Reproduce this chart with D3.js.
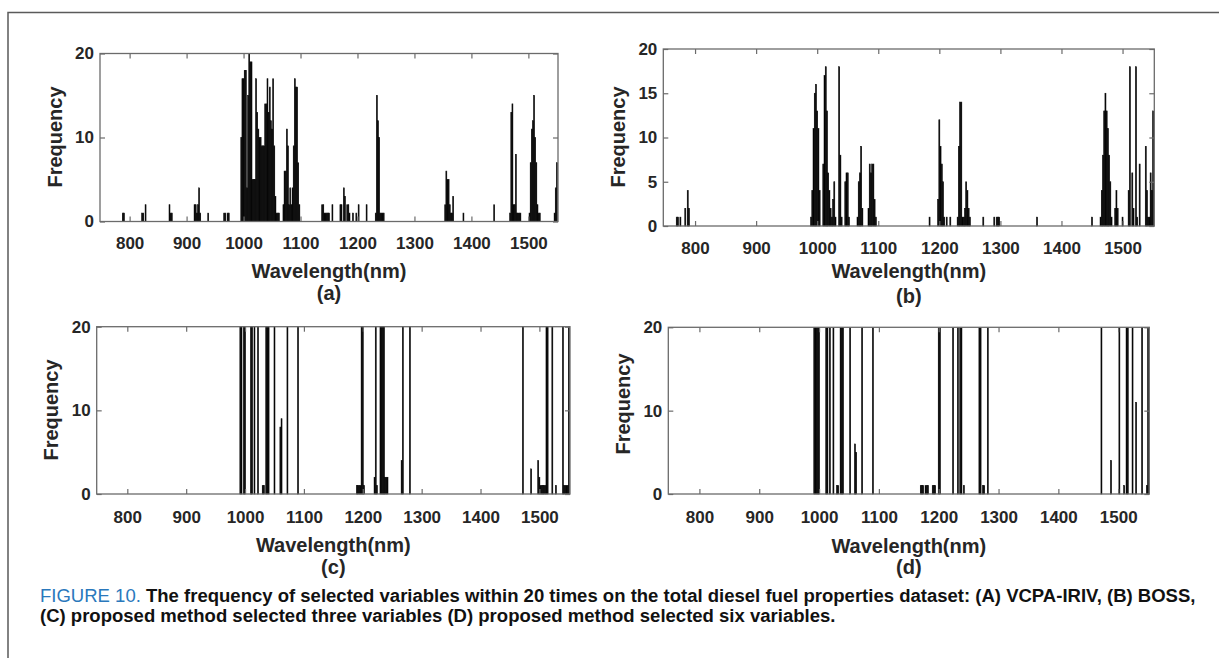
<!DOCTYPE html>
<html>
<head>
<meta charset="utf-8">
<script src="https://cdn.jsdelivr.net/npm/d3@7"></script>
<style>
  html, body { margin: 0; padding: 0; background: #fff; }
  svg { display: block; }
  .tick text { font-family: "Liberation Sans", Arial, sans-serif; font-weight: bold; font-size: 17px; fill: #262626; }
  .tick line { stroke: #6b6b6b; stroke-width: 1.2; }
  .axis-title { font-family: "Liberation Sans", Arial, sans-serif; font-weight: bold; font-size: 20px; fill: #262626; }
  .caption { font-family: "Liberation Sans", Arial, sans-serif; font-weight: bold; font-size: 14px; fill: #111; }
</style>
</head>
<body>
<svg id="fig" width="1219" height="658"></svg>
<script>
// --- data: wavelength (nm) and selection frequency (out of 20 runs) ---
const xTicks = [800, 900, 1000, 1100, 1200, 1300, 1400, 1500];
const yTicksTen = [0, 10, 20];
const yTicksFive = [0, 5, 10, 15, 20];
const panelTags = ["(a)", "(b)", "(c)", "(d)"];
const xTitle = "Wavelength(nm)";
const yTitle = "Frequency";
const wavelengthRange = [748, 1552];
const freqRange = [0, 20];

// (a) VCPA-IRIV
const vcpaIriv = [
  [788,1],[790,1],[822,1],[824,1],[828,2],[870,2],[872,1],[874,1],
  [914,2],[916,2],[918,1],[920,2],[922,4],[924,1],[938,1],[966,1],[968,1],[972,1],[974,1],
  [996,10],[998,17],[1000,17],[1002,18],[1004,18],[1006,4],[1008,15],[1010,20],[1012,19],[1014,19],
  [1016,5],[1018,5],[1020,5],[1022,17],[1024,13],[1026,11],[1028,10],[1030,10],[1032,9],[1034,9],
  [1036,9],[1038,14],[1040,14],[1042,17],[1044,13],[1046,16],[1048,12],[1050,11],[1052,17],[1054,9],
  [1056,3],[1058,1],[1060,1],[1062,1],
  [1070,2],[1072,6],[1074,6],[1076,11],[1078,9],[1080,2],[1082,4],[1084,2],[1086,4],[1088,9],
  [1090,17],[1092,16],[1094,16],[1096,7],[1098,2],
  [1138,2],[1140,2],[1142,1],[1144,1],[1146,1],[1148,1],[1150,1],[1156,2],
  [1170,2],[1172,2],[1176,4],[1178,3],[1182,2],[1184,2],[1186,1],[1192,1],[1198,1],[1202,2],[1216,2],
  [1232,1],[1234,15],[1236,12],[1238,10],[1240,1],[1242,1],[1244,1],[1246,1],
  [1354,2],[1356,6],[1358,5],[1360,5],[1362,2],[1364,1],[1366,1],[1368,3],[1386,1],[1440,2],
  [1468,1],[1470,13],[1472,14],[1474,2],[1476,2],[1478,8],[1480,1],[1482,1],[1484,1],[1486,1],
  [1502,1],[1504,7],[1506,11],[1508,12],[1510,15],[1512,10],[1514,7],[1516,2],[1518,1],[1520,1],
  [1546,1],[1548,4],[1550,7]
];

// (b) BOSS
const boss = [
  [770,1],[772,1],[776,1],[784,2],[788,4],[790,2],
  [990,1],[992,4],[994,11],[996,15],[998,16],[1000,13],[1002,11],[1004,4],
  [1010,7],[1012,17],[1014,18],[1016,13],[1018,6],[1020,4],[1022,2],[1024,1],[1026,3],[1028,5],[1030,1],
  [1036,18],[1038,8],[1040,1],[1046,5],[1048,6],[1050,6],[1052,1],
  [1066,1],[1068,5],[1070,6],[1072,9],[1074,2],
  [1084,2],[1086,7],[1088,6],[1090,7],[1092,7],[1094,3],[1096,1],
  [1184,1],[1198,3],[1200,12],[1202,9],[1204,7],[1206,5],[1208,1],[1212,1],[1218,1],
  [1230,1],[1232,9],[1234,14],[1236,14],[1238,1],[1240,1],[1242,2],[1244,5],[1246,4],[1248,2],[1250,1],
  [1272,1],[1290,1],[1294,1],[1296,1],[1298,1],[1360,1],[1450,1],
  [1464,1],[1466,4],[1468,8],[1470,13],[1472,15],[1474,13],[1476,11],[1478,8],[1480,5],[1482,1],
  [1488,2],[1490,4],[1492,2],[1500,1],
  [1510,4],[1512,18],[1516,6],[1518,2],[1522,18],[1524,1],[1528,7],
  [1538,9],[1540,4],[1542,1],[1544,1],[1546,6],[1548,4],[1550,13]
];

// (c) proposed method, three variables
const selectedThree = [
  [992,20],[994,20],[998,20],[1000,20],[1010,20],[1012,20],[1016,20],[1022,20],
  [1030,1],[1032,1],[1036,20],[1038,20],[1040,20],[1050,20],[1060,8],[1062,9],[1072,20],[1090,20],
  [1190,1],[1192,1],[1194,1],[1196,1],[1198,20],[1200,20],[1202,1],
  [1220,2],[1222,20],[1224,1],[1230,20],[1232,20],[1234,20],[1236,20],[1238,2],[1240,2],[1242,2],
  [1266,4],[1268,20],[1280,20],
  [1472,20],[1486,3],[1498,4],[1500,2],[1502,1],[1504,1],[1506,1],[1508,1],[1510,1],
  [1512,20],[1514,20],[1522,20],[1528,1],[1540,20],[1542,1],[1544,1],[1546,1],[1548,1],[1550,20]
];

// (d) proposed method, six variables
const selectedSix = [
  [992,20],[994,20],[996,20],[998,20],[1000,20],[1012,20],[1014,20],[1018,20],[1024,20],
  [1030,1],[1032,1],[1036,20],[1038,20],[1040,20],[1052,20],[1060,6],[1062,5],[1072,20],[1090,20],
  [1170,1],[1172,1],[1174,1],[1178,1],[1180,1],[1182,1],[1190,1],[1192,1],[1194,1],
  [1200,20],[1202,20],[1224,20],[1232,20],[1236,20],[1238,20],[1242,1],
  [1268,20],[1270,20],[1274,1],[1276,1],[1282,20],
  [1472,20],[1488,4],[1502,20],[1510,1],[1514,20],[1516,20],[1524,20],[1530,11],
  [1540,20],[1548,1],[1550,20]
];

const captionHead = "FIGURE 10. ";
const captionLine1 = "The frequency of selected variables within 20 times on the total diesel fuel properties dataset: (A) VCPA-IRIV, (B) BOSS,";
const captionLine2 = "(C) proposed method selected three variables (D) proposed method selected six variables.";

// --- layout of the four axes (pixels) ---
const panels = [
  { data: vcpaIriv, yTicks: yTicksTen, tag: panelTags[0],
    left: 100, right: 558, top: 53.5, bottom: 221.5,
    tickPad: 15, titleY: 278, tagY: 299.5, yTitleX: 61.5, yTitleY: 137 },
  { data: boss, yTicks: yTicksFive, tag: panelTags[1],
    left: 663.3, right: 1154.3, top: 49, bottom: 226,
    tickPad: 15.5, titleY: 278.3, tagY: 302.5, yTitleX: 624.5, yTitleY: 137 },
  { data: selectedThree, yTicks: yTicksTen, tag: panelTags[2],
    left: 96.7, right: 570, top: 326.7, bottom: 494,
    tickPad: 17, titleY: 551.7, tagY: 574, yTitleX: 58, yTitleY: 410 },
  { data: selectedSix, yTicks: yTicksTen, tag: panelTags[3],
    left: 668.3, right: 1149.3, top: 327.3, bottom: 494,
    tickPad: 17, titleY: 553, tagY: 574, yTitleX: 629.5, yTitleY: 404 }
];

const svg = d3.select("#fig");
svg.append("rect").attr("width", 1219).attr("height", 658).attr("fill", "#fff");

// page frame
svg.append("path")
  .attr("d", "M8,658 V12.5 H1219")
  .attr("fill", "none")
  .attr("stroke", "#5a5a5a")
  .attr("stroke-width", 1.5);

const TICK = 5;
const BOX = "#6b6b6b";
const fmt = d3.format("d");

panels.forEach(p => {
  const x = d3.scaleLinear().domain(wavelengthRange).range([p.left, p.right]);
  const y = d3.scaleLinear().domain(freqRange).range([p.bottom, p.top]);
  const g = svg.append("g");

  // bars (MATLAB bar, width 0.8 of the 2 nm step)
  g.append("g").selectAll("rect")
    .data(p.data)
    .join("rect")
    .attr("x", d => x(d[0] - 0.8))
    .attr("width", d => x(d[0] + 0.8) - x(d[0] - 0.8))
    .attr("y", d => y(d[1]))
    .attr("height", d => y(0) - y(d[1]))
    .attr("fill", "#000")
    .attr("stroke", "#000")
    .attr("stroke-width", 0.6);

  // axes with inward ticks on all sides
  g.append("g").attr("transform", `translate(0,${p.bottom})`)
    .call(d3.axisBottom(x).tickValues(xTicks).tickSize(-TICK).tickPadding(p.tickPad).tickFormat(fmt));
  g.append("g").attr("transform", `translate(0,${p.top})`)
    .call(d3.axisTop(x).tickValues(xTicks).tickSize(-TICK).tickFormat(""));
  g.append("g").attr("transform", `translate(${p.left},0)`)
    .call(d3.axisLeft(y).tickValues(p.yTicks).tickSize(-TICK).tickPadding(6).tickFormat(fmt));
  g.append("g").attr("transform", `translate(${p.right},0)`)
    .call(d3.axisRight(y).tickValues(p.yTicks).tickSize(-TICK).tickFormat(""));
  g.selectAll(".domain").remove();
  g.selectAll(".tick text").attr("fill", null);
  g.selectAll(".tick line").attr("stroke", null);

  g.append("rect")
    .attr("x", p.left).attr("y", p.top)
    .attr("width", p.right - p.left).attr("height", p.bottom - p.top)
    .attr("fill", "none").attr("stroke", BOX).attr("stroke-width", 1.3);

  const cx = (p.left + p.right) / 2;
  g.append("text").attr("class", "axis-title")
    .attr("x", cx).attr("y", p.titleY).attr("text-anchor", "middle").text(xTitle);
  g.append("text").attr("class", "axis-title")
    .attr("x", cx).attr("y", p.tagY).attr("text-anchor", "middle").text(p.tag);
  g.append("text").attr("class", "axis-title")
    .attr("transform", `translate(${p.yTitleX},${p.yTitleY}) rotate(-90)`)
    .attr("text-anchor", "middle").text(yTitle);
});

// caption: size the font so the first line spans the same width as in the figure
const cap1 = svg.append("text").attr("class", "caption").attr("x", 40).attr("y", 602);
cap1.append("tspan").attr("fill", "#2a78bc").attr("font-weight", "normal").text(captionHead);
cap1.append("tspan").text(captionLine1);
const cap2 = svg.append("text").attr("class", "caption").attr("x", 40).attr("y", 622).text(captionLine2);
const w14 = cap1.node().getComputedTextLength();
const capSize = 14 * 1156 / w14;
cap1.style("font-size", capSize + "px");
cap2.style("font-size", capSize + "px");
</script>
</body>
</html>
